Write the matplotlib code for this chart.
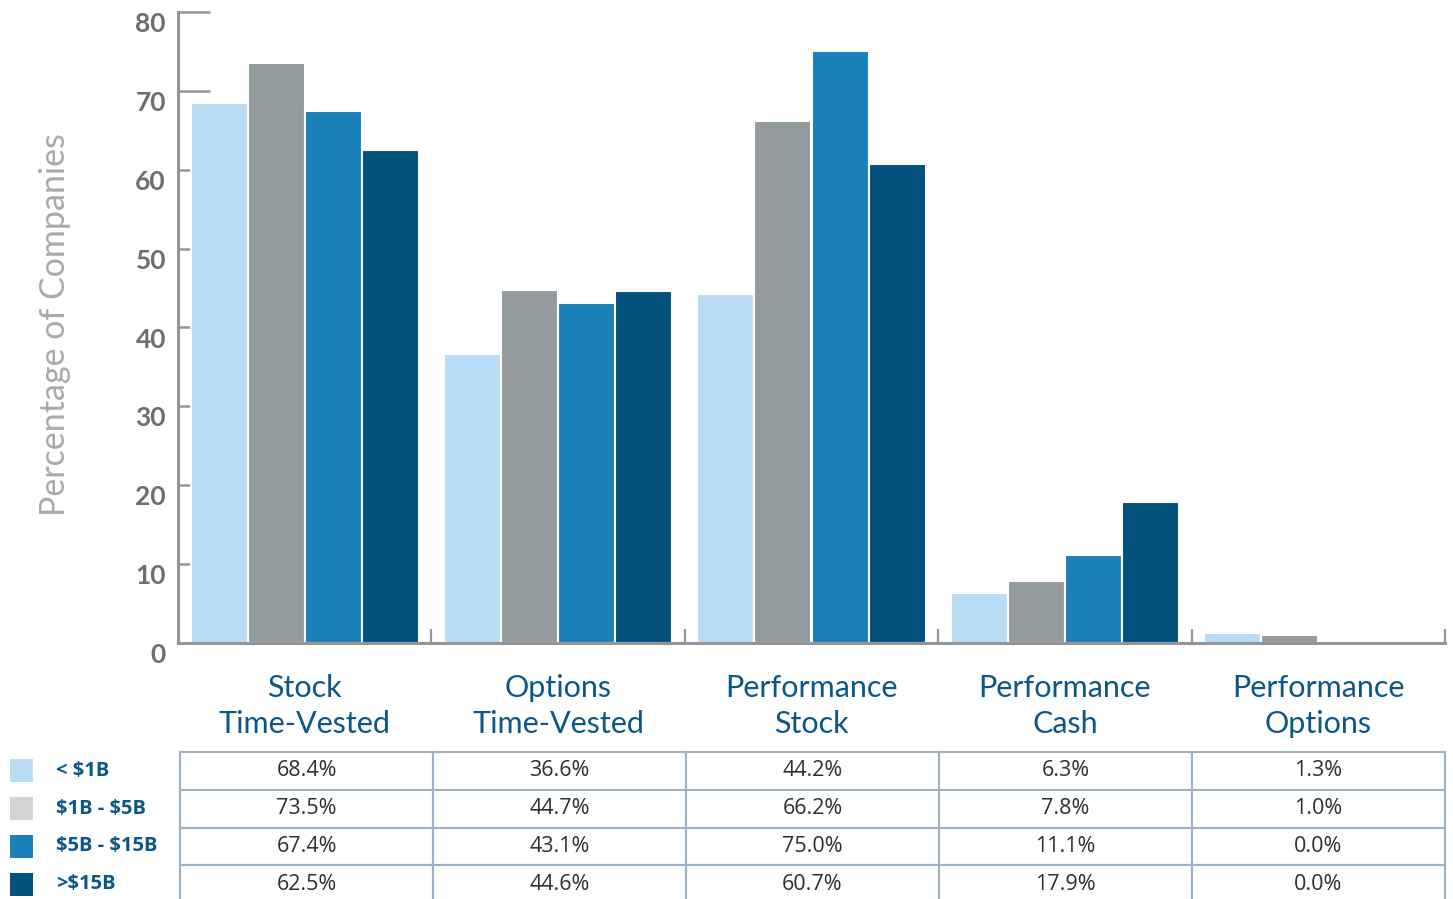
import matplotlib

matplotlib.use("Agg")

import matplotlib.pyplot as plt
from matplotlib.patches import Rectangle
from matplotlib.transforms import offset_copy
import numpy as np

CATEGORIES = ["Stock\nTime-Vested", "Options\nTime-Vested", "Performance\nStock",
              "Performance\nCash", "Performance\nOptions"]
SERIES = ["< \\$1B", "\\$1B - \\$5B", "\\$5B - \\$15B", ">\\$15B"]
VALUES = [
    [68.4, 36.6, 44.2, 6.3, 1.3],
    [73.5, 44.7, 66.2, 7.8, 1.0],
    [67.4, 43.1, 75.0, 11.1, 0.0],
    [62.5, 44.6, 60.7, 17.9, 0.0],
]
Y_TICKS = [0, 10, 20, 30, 40, 50, 60, 70, 80]

BAR_COLORS = ["#b9ddf4", "#949b9e", "#1a80b8", "#02527d"]
PATCH_COLORS = ["#b9ddf4", "#d3d4d6", "#1a80b8", "#02527d"]
AXIS_GRAY = "#939598"
LABEL_BLUE = "#0b5788"

W, H = 1453, 899
fig = plt.figure(figsize=(W / 100, H / 100), dpi=100)
ax = fig.add_axes([178 / W, (H - 643) / H, 1267 / W, 631 / H])

n = len(CATEGORIES)
x = np.arange(n)
bw = 0.225
for i, (vals, col) in enumerate(zip(VALUES, BAR_COLORS)):
    off = (i - 1.5) * bw
    ax.bar(x + off, vals, width=bw, color=col, edgecolor="white", linewidth=1.5, zorder=3)

ax.set_xlim(-0.5, n - 0.5)
ax.set_ylim(0, 80)
for s in ["top", "right"]:
    ax.spines[s].set_visible(False)
for s in ["left", "bottom"]:
    ax.spines[s].set_color(AXIS_GRAY)
    ax.spines[s].set_linewidth(2.2)
    ax.spines[s].set_zorder(4)

ax.set_yticks(Y_TICKS[1:])
ax.set_yticklabels([])
ax.tick_params(axis="y", direction="in", length=23, width=1.8, color=AXIS_GRAY)
lab_tr = offset_copy(ax.get_yaxis_transform(), fig=fig, x=-12, y=-12, units="dots")
for v in Y_TICKS:
    ax.text(0, v, str(v), transform=lab_tr, ha="right", va="center",
            fontsize=19, fontweight="bold", color="#6d6e70", family="Lato")

ax.set_xticks(x)
ax.set_xticklabels(CATEGORIES, fontsize=22, color=LABEL_BLUE, family="Lato",
                   linespacing=1.38)
ax.tick_params(axis="x", which="major", length=0, pad=22)
ax.set_xticks(x + 0.5, minor=True)
ax.tick_params(axis="x", which="minor", direction="in", length=10, width=1.6, color=AXIS_GRAY)

fig.text(55 / W, 1 - 325 / H, "Percentage of Companies", rotation=90, ha="center",
         va="center", fontsize=24.5, color="#a7a9ac", family="Lato")

# data table
tax = fig.add_axes([180 / W, (H - 903) / H, 1265 / W, 151 / H])
tax.axis("off")
cell_text = [[f"{v:.1f}%" for v in row] for row in VALUES]
tbl = tax.table(cellText=cell_text, cellLoc="center", bbox=[0, 0, 1, 1])
tbl.auto_set_font_size(False)
for (r, c), cell in tbl.get_celld().items():
    cell.set_edgecolor("#9db1c6")
    cell.set_linewidth(1.5)
    cell.get_text().set_fontsize(15.5)
    cell.get_text().set_color("#2f2f2f")
    cell.get_text().set_family("Open Sans")
    cell.get_text().set_fontweight("medium")

# legend beside table rows
row_h = 151 / 4
for i, (name, col) in enumerate(zip(SERIES, PATCH_COLORS)):
    yc = 752 + row_h * (i + 0.5)
    fig.add_artist(Rectangle((10 / W, 1 - (yc + 11.5) / H), 23 / W, 23 / H,
                             transform=fig.transFigure, facecolor=col, edgecolor="none"))
    fig.text(56 / W, 1 - yc / H, name, ha="left", va="center", fontsize=14.5,
             fontweight="bold", color=LABEL_BLUE, family="Open Sans")

fig.savefig("out.png", dpi=100)
